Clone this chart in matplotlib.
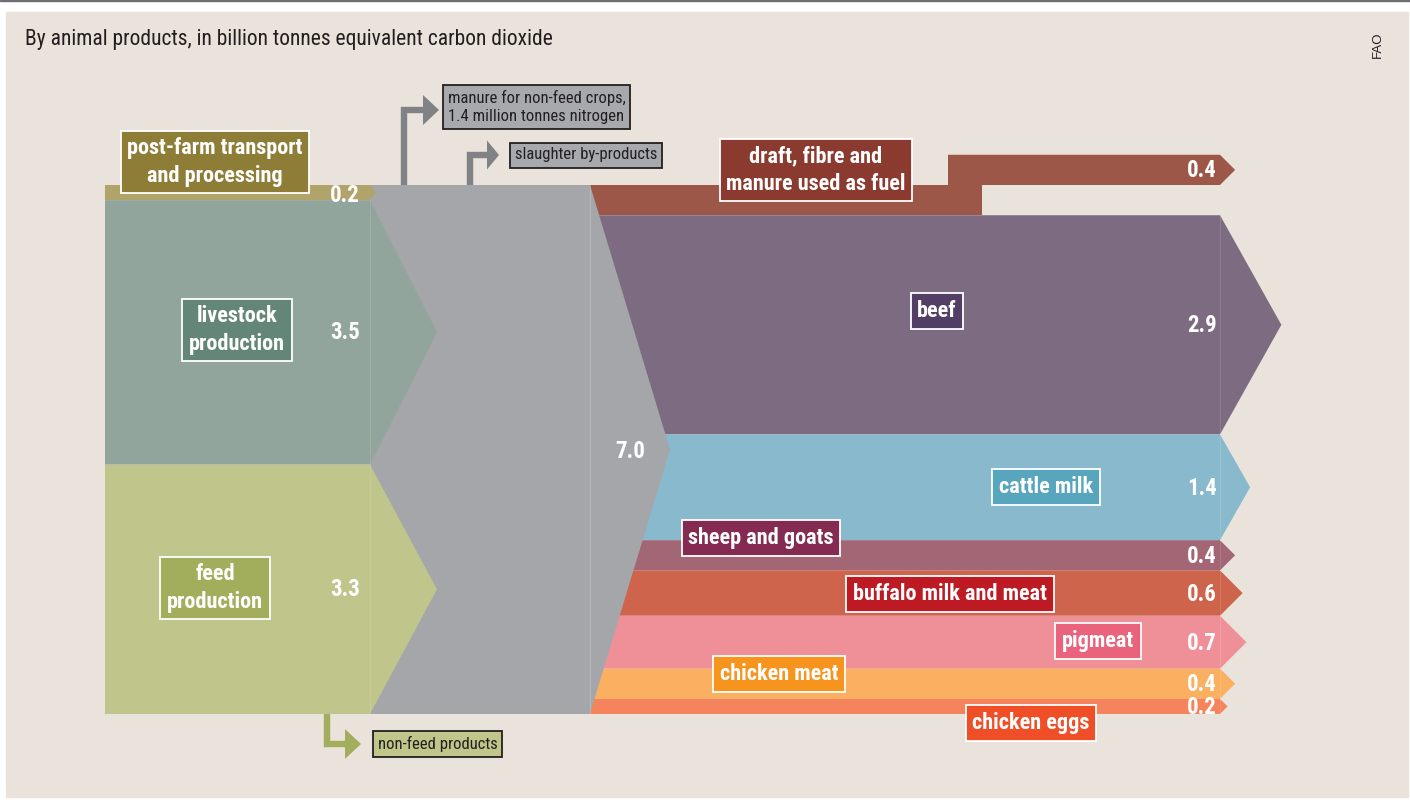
import numpy as np
import matplotlib
matplotlib.use('Agg')
import matplotlib.pyplot as plt
from matplotlib import font_manager
from matplotlib.patches import Polygon, Rectangle

# data: billion tonnes CO2 equivalent
in_labels = ['post-farm transport\nand processing', 'livestock\nproduction', 'feed\nproduction']
in_vals = [0.2, 3.5, 3.3]
total = 7.0
out_labels = ['draft, fibre and\nmanure used as fuel', 'beef', 'cattle milk', 'sheep and goats',
              'buffalo milk and meat', 'pigmeat', 'chicken meat', 'chicken eggs']
out_vals = [0.4, 2.9, 1.4, 0.4, 0.6, 0.7, 0.4, 0.2]
side_labels = ['manure for non-feed crops,\n1.4 million tonnes nitrogen', 'slaughter by-products', 'non-feed products']

# styles
in_cols = ['#b0a46a', '#91a59d', '#bfc58b']
in_box = ['#8e7d37', '#648678', '#a3ae5c']
out_cols = ['#9c5749', '#7d6b82', '#89b9cd', '#a26674', '#cd644b', '#ef9098', '#fbb061', '#f5845d']
out_box = ['#8b3a2f', '#533f66', '#58a6bd', '#852b52', '#bd1a23', '#e8637b', '#f7941e', '#ef4e26']
grey = '#a5a6a9'
arrow_grey = '#808285'
bg = '#e9e3dc'

names = {f.name for f in font_manager.fontManager.ttflist}
cond = next((n for n in ['Roboto Condensed', 'Liberation Sans Narrow', 'Open Sans Condensed'] if n in names), 'DejaVu Sans')
plain = 'Liberation Sans' if 'Liberation Sans' in names else 'DejaVu Sans'
stretch = 'condensed' if cond == 'DejaVu Sans' else 'normal'

fig = plt.figure(figsize=(14.1, 8.07), dpi=100, facecolor='white')
ax = fig.add_axes([0, 0, 1, 1])
ax.set_xlim(0, 1410)
ax.set_ylim(807, 0)
ax.axis('off')

# background panel and top rule
ax.add_patch(Rectangle((6, 12), 1402, 785, color=bg, zorder=0))
ax.add_patch(Rectangle((0, 0), 1410, 1.2, color='#6d6e71', zorder=0))

# scale: pixels per billion tonnes
Y0 = 185
U = 529 / total
x_in0, x_in1 = 105, 370
x_mid, x_tip = 590, 670
x_out1 = 1220
vfs = 16.5

def val_y(cum):
    return Y0 + U * cum

# right-hand output bands
out_top = np.concatenate([[0], np.cumsum(out_vals)[:-1]])
tip_ratio = [1, 0.56, 0.57, 1, 1, 1, 1, 1]
for i, (v, c) in enumerate(zip(out_vals, out_cols)):
    t, b = val_y(out_top[i]), val_y(out_top[i] + v)
    h = b - t
    if i == 0:
        # draft steps up and out
        ax.add_patch(Rectangle((x_mid, t), 982 - x_mid, h, color=c, lw=0, zorder=1))
        t2, b2 = t - h, t
        ax.add_patch(Polygon([(948, t2), (x_out1, t2), (x_out1 + h / 2, t2 + h / 2), (x_out1, b2), (948, b2)],
                             closed=True, color=c, lw=0, zorder=1))
        ax.text(x_out1 - 3, t2 + h / 2 + 1, f'{v:.1f}', ha='right', va='center', color='white',
                fontsize=vfs, fontweight='bold', family=cond, stretch=stretch, zorder=6)
        continue
    tip = tip_ratio[i] * h / 2
    ax.add_patch(Polygon([(x_mid, t), (x_out1, t), (x_out1 + tip, t + h / 2), (x_out1, b), (x_mid, b)],
                         closed=True, color=c, lw=0, zorder=1))
    ax.plot([x_out1, x_out1], [t, b], color='white', alpha=0.12, lw=0.8, zorder=1.5)
    ax.text(x_out1 - 3, t + h / 2 + 1, f'{v:.1f}', ha='right', va='center', color='white',
            fontsize=vfs, fontweight='bold', family=cond, stretch=stretch, zorder=6)

# grey centre block with chevron
yb = val_y(total)
ax.add_patch(Polygon([(x_in1, Y0), (x_mid, Y0), (x_tip, (Y0 + yb) / 2), (x_mid, yb), (x_in1, yb)],
                     closed=True, color=grey, lw=0, zorder=2))
ax.plot([x_mid, x_mid], [Y0, yb], color='white', alpha=0.18, lw=0.8, zorder=2.5)
ax.text(x_tip - 25, (Y0 + yb) / 2 + 2, f'{total:.1f}', ha='right', va='center', color='white',
        fontsize=vfs, fontweight='bold', family=cond, stretch=stretch, zorder=6)

# left-hand input bands
in_top = np.concatenate([[0], np.cumsum(in_vals)[:-1]])
in_tip = [6, 67, 67]
for i, (v, c) in enumerate(zip(in_vals, in_cols)):
    t, b = val_y(in_top[i]), val_y(in_top[i] + v)
    h = b - t
    ax.add_patch(Polygon([(x_in0, t), (x_in1, t), (x_in1 + in_tip[i], t + h / 2), (x_in1, b), (x_in0, b)],
                         closed=True, color=c, lw=0, zorder=3))
    dy = 3 if i == 0 else 0
    if i > 0:
        ax.plot([x_in1, x_in1], [t, b], color='white', alpha=0.12, lw=0.8, zorder=3.5)
    ax.text(x_in1 - 10, t + h / 2 + dy, f'{v:.1f}', ha='right', va='center', color='white',
            fontsize=vfs, fontweight='bold', family=cond, stretch=stretch, zorder=6)

# labelled boxes
in_pos = [(215, 162), (237, 330), (215, 588)]
out_pos = [(816, 170), (937, 311), (1046, 487), (761, 538), (950, 594), (1098, 641), (779, 674), (1031, 723)]
for lab, (x, y), fc in zip(in_labels + out_labels, in_pos + out_pos, in_box + out_box):
    ax.text(x, y, lab, ha='center', va='center', color='white', fontsize=16, fontweight='bold',
            family=cond, stretch=stretch, linespacing=1.3, zorder=7,
            bbox=dict(boxstyle='square,pad=0.3', fc=fc, ec='white', lw=1.3))

# side arrows
def bent_arrow(pts, col, head_w=30, head_l=16):
    xs, ys = zip(*pts)
    ax.plot(xs, ys, color=col, lw=4.6, solid_joinstyle='miter', solid_capstyle='butt', zorder=4)
    ex, ey = pts[-1]
    ax.add_patch(Polygon([(ex, ey - head_w / 2), (ex + head_l, ey), (ex, ey + head_w / 2)],
                         closed=True, color=col, lw=0, zorder=4))

bent_arrow([(404, Y0), (404, 110), (423, 110)], arrow_grey)
bent_arrow([(469.5, Y0), (469.5, 155), (487, 155)], arrow_grey, head_w=29, head_l=12)
bent_arrow([(327, yb), (327, 744), (345, 744)], '#a3ae5c', head_w=30, head_l=16)

side_pos = [(536.5, 107), (586, 155), (437.5, 744)]
side_fc = ['#a7a9ac', '#a7a9ac', '#c0c58a']
for lab, (x, y), fc in zip(side_labels, side_pos, side_fc):
    ax.text(x, y, lab, ha='center', va='center', color='#231f20', fontsize=12, family=cond,
            stretch=stretch, linespacing=1.25, zorder=7,
            bbox=dict(boxstyle='square,pad=0.3', fc=fc, ec='#231f20', lw=1.3))

# title and source
ax.text(25, 39, 'By animal products, in billion tonnes equivalent carbon dioxide', ha='left', va='center',
        color='#231f20', fontsize=15.5, family=cond, stretch=stretch)
ax.text(1378, 45, 'FAO', ha='center', va='center', rotation=90, color='#231f20', fontsize=9.5, family=plain)

fig.savefig('out.png', dpi=100, facecolor='white')
